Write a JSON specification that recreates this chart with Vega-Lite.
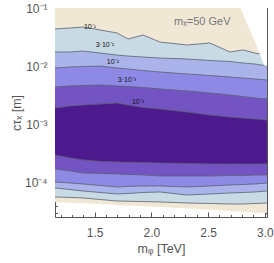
{
  "$schema": "https://vega.github.io/schema/vega-lite/v6.json",
  "width": 212,
  "height": 209,
  "autosize": "none",
  "padding": {"left": 55, "top": 8, "right": 7, "bottom": 46},
  "background": "white",
  "config": {
    "view": {"stroke": null},
    "font": "Liberation Sans",
    "axis": {"grid": false, "domainColor": "#555", "tickColor": "#555", "labelColor": "#555", "titleColor": "#555", "labelFontSize": 12, "titleFontSize": 12.5, "titleFontWeight": "normal", "zindex": 1}
  },
  "datasets": {
    "bands": [
      {"x": 1.15, "b": "tan", "lo": 4.72e-5, "hi": 0.1},
      {"x": 1.282, "b": "tan", "lo": 4.59e-5, "hi": 0.1},
      {"x": 1.397, "b": "tan", "lo": 4.49e-5, "hi": 0.1},
      {"x": 1.547, "b": "tan", "lo": 4.35e-5, "hi": 0.1},
      {"x": 1.697, "b": "tan", "lo": 4.20e-5, "hi": 0.1},
      {"x": 1.794, "b": "tan", "lo": 4.11e-5, "hi": 0.1},
      {"x": 1.926, "b": "tan", "lo": 4.00e-5, "hi": 0.1},
      {"x": 2.076, "b": "tan", "lo": 3.88e-5, "hi": 0.1},
      {"x": 2.314, "b": "tan", "lo": 3.65e-5, "hi": 0.1},
      {"x": 2.517, "b": "tan", "lo": 3.46e-5, "hi": 0.1},
      {"x": 2.693, "b": "tan", "lo": 3.31e-5, "hi": 0.1},
      {"x": 2.808, "b": "tan", "lo": 3.21e-5, "hi": 0.1},
      {"x": 2.914, "b": "tan", "lo": 3.12e-5, "hi": 0.1},
      {"x": 3.02, "b": "tan", "lo": 3.06e-5, "hi": 0.1},

      {"x": 1.15, "b": "lb", "lo": 5.75e-5, "hi": 0.0437},
      {"x": 1.282, "b": "lb", "lo": 5.64e-5, "hi": 0.0454},
      {"x": 1.397, "b": "lb", "lo": 5.53e-5, "hi": 0.0472},
      {"x": 1.547, "b": "lb", "lo": 5.21e-5, "hi": 0.0420},
      {"x": 1.697, "b": "lb", "lo": 4.91e-5, "hi": 0.0373},
      {"x": 1.794, "b": "lb", "lo": 4.86e-5, "hi": 0.0294},
      {"x": 1.926, "b": "lb", "lo": 4.80e-5, "hi": 0.0344},
      {"x": 2.076, "b": "lb", "lo": 4.72e-5, "hi": 0.0261},
      {"x": 2.314, "b": "lb", "lo": 4.54e-5, "hi": 0.0232},
      {"x": 2.517, "b": "lb", "lo": 4.45e-5, "hi": 0.0251},
      {"x": 2.693, "b": "lb", "lo": 4.36e-5, "hi": 0.0176},
      {"x": 2.808, "b": "lb", "lo": 4.36e-5, "hi": 0.0191},
      {"x": 2.914, "b": "lb", "lo": 4.45e-5, "hi": 0.0169},
      {"x": 3.02, "b": "lb", "lo": 4.54e-5, "hi": 0.0156},

      {"x": 1.15, "b": "lav", "lo": 8.21e-5, "hi": 0.0176},
      {"x": 1.282, "b": "lav", "lo": 7.73e-5, "hi": 0.0176},
      {"x": 1.397, "b": "lav", "lo": 7.29e-5, "hi": 0.0183},
      {"x": 1.547, "b": "lav", "lo": 6.87e-5, "hi": 0.0169},
      {"x": 1.697, "b": "lav", "lo": 6.47e-5, "hi": 0.0156},
      {"x": 1.794, "b": "lav", "lo": 6.60e-5, "hi": 0.0150},
      {"x": 1.926, "b": "lav", "lo": 6.87e-5, "hi": 0.01445},
      {"x": 2.076, "b": "lav", "lo": 7.01e-5, "hi": 0.01389},
      {"x": 2.314, "b": "lav", "lo": 6.22e-5, "hi": 0.01336},
      {"x": 2.517, "b": "lav", "lo": 6.47e-5, "hi": 0.01259},
      {"x": 2.693, "b": "lav", "lo": 6.74e-5, "hi": 0.01210},
      {"x": 2.808, "b": "lav", "lo": 6.87e-5, "hi": 0.01141},
      {"x": 2.914, "b": "lav", "lo": 7.01e-5, "hi": 0.01096},
      {"x": 3.02, "b": "lav", "lo": 7.29e-5, "hi": 0.01013},

      {"x": 1.15, "b": "med", "lo": 1.04e-4, "hi": 0.00936},
      {"x": 1.282, "b": "med", "lo": 1.00e-4, "hi": 0.00974},
      {"x": 1.397, "b": "med", "lo": 9.61e-5, "hi": 0.00993},
      {"x": 1.547, "b": "med", "lo": 9.06e-5, "hi": 0.01013},
      {"x": 1.697, "b": "med", "lo": 8.54e-5, "hi": 0.00936},
      {"x": 1.794, "b": "med", "lo": 8.71e-5, "hi": 0.00900},
      {"x": 1.926, "b": "med", "lo": 8.88e-5, "hi": 0.00848},
      {"x": 2.076, "b": "med", "lo": 8.88e-5, "hi": 0.00800},
      {"x": 2.314, "b": "med", "lo": 8.54e-5, "hi": 0.00739},
      {"x": 2.517, "b": "med", "lo": 8.88e-5, "hi": 0.00696},
      {"x": 2.693, "b": "med", "lo": 9.24e-5, "hi": 0.00656},
      {"x": 2.808, "b": "med", "lo": 9.42e-5, "hi": 0.00631},
      {"x": 2.914, "b": "med", "lo": 9.61e-5, "hi": 0.00607},
      {"x": 3.02, "b": "med", "lo": 1.00e-4, "hi": 0.00583},

      {"x": 1.15, "b": "pur", "lo": 1.74e-4, "hi": 0.00442},
      {"x": 1.282, "b": "pur", "lo": 1.61e-4, "hi": 0.00460},
      {"x": 1.397, "b": "pur", "lo": 1.48e-4, "hi": 0.00469},
      {"x": 1.547, "b": "pur", "lo": 1.46e-4, "hi": 0.00479},
      {"x": 1.697, "b": "pur", "lo": 1.43e-4, "hi": 0.00460},
      {"x": 1.794, "b": "pur", "lo": 1.40e-4, "hi": 0.00451},
      {"x": 1.926, "b": "pur", "lo": 1.37e-4, "hi": 0.00434},
      {"x": 2.076, "b": "pur", "lo": 1.32e-4, "hi": 0.00409},
      {"x": 2.314, "b": "pur", "lo": 1.32e-4, "hi": 0.00378},
      {"x": 2.517, "b": "pur", "lo": 1.32e-4, "hi": 0.00349},
      {"x": 2.693, "b": "pur", "lo": 1.34e-4, "hi": 0.00323},
      {"x": 2.808, "b": "pur", "lo": 1.34e-4, "hi": 0.00304},
      {"x": 2.914, "b": "pur", "lo": 1.37e-4, "hi": 0.00286},
      {"x": 3.02, "b": "pur", "lo": 1.37e-4, "hi": 0.00275},

      {"x": 1.15, "b": "dark", "lo": 3.02e-4, "hi": 0.00193},
      {"x": 1.282, "b": "dark", "lo": 2.68e-4, "hi": 0.00209},
      {"x": 1.397, "b": "dark", "lo": 2.48e-4, "hi": 0.00217},
      {"x": 1.547, "b": "dark", "lo": 2.34e-4, "hi": 0.00226},
      {"x": 1.697, "b": "dark", "lo": 2.29e-4, "hi": 0.00235},
      {"x": 1.794, "b": "dark", "lo": 2.26e-4, "hi": 0.00217},
      {"x": 1.926, "b": "dark", "lo": 2.24e-4, "hi": 0.00197},
      {"x": 2.076, "b": "dark", "lo": 2.20e-4, "hi": 0.00186},
      {"x": 2.314, "b": "dark", "lo": 2.16e-4, "hi": 0.00165},
      {"x": 2.517, "b": "dark", "lo": 2.12e-4, "hi": 0.00146},
      {"x": 2.693, "b": "dark", "lo": 2.12e-4, "hi": 0.00135},
      {"x": 2.808, "b": "dark", "lo": 2.12e-4, "hi": 0.00130},
      {"x": 2.914, "b": "dark", "lo": 2.12e-4, "hi": 0.00125},
      {"x": 3.02, "b": "dark", "lo": 2.12e-4, "hi": 0.00120}
    ],
    "wedge": [
      {"x": 2.786, "lo": 0.1, "hi": 0.1},
      {"x": 2.918, "lo": 0.0251, "hi": 0.1},
      {"x": 2.997, "lo": 0.0102, "hi": 0.1},
      {"x": 3.02, "lo": 0.0102, "hi": 0.1}
    ],
    "labels": [
      {"x": 1.459, "y": 0.0472, "t": "10⁻¹"},
      {"x": 1.59, "y": 0.0232, "t": "3·10⁻²"},
      {"x": 1.661, "y": 0.0119, "t": "10⁻²"},
      {"x": 1.785, "y": 0.00583, "t": "3·10⁻³"},
      {"x": 1.882, "y": 0.00245, "t": "10⁻³"}
    ],
    "note": [
      {"x": 2.2, "y": 0.0575, "t": "mₓ=50 GeV"}
    ]
  },
  "layer": [
    {
      "data": {"name": "bands"},
      "transform": [{"filter": "datum.b == 'tan'"}],
      "mark": {"type": "area", "color": "#f0e7d5", "clip": true},
      "encoding": {
        "x": {"field": "x", "type": "quantitative", "scale": {"domain": [1.15, 3.02], "nice": false, "zero": false},
          "axis": {"orient": "bottom", "values": [1.5, 2.0, 2.5, 3.0], "format": ".1f", "tickSize": -5, "labelPadding": 15, "domain": true, "title": "mᵩ [TeV]", "titlePadding": 4}},
        "y": {"field": "lo", "type": "quantitative", "scale": {"type": "log", "domain": [2.61e-5, 0.1], "nice": false},
          "axis": {"orient": "left", "values": [0.0001, 0.001, 0.01, 0.1], "labelExpr": "'10⁻' + ['','¹','²','³','⁴','⁵'][round(-log(datum.value)/LN10)]", "tickSize": -5, "labelPadding": 13, "domain": true, "title": "cτₓ [m]", "titlePadding": 1}},
        "y2": {"field": "hi"}
      }
    },
    {
      "data": {"name": "bands"},
      "transform": [{"filter": "datum.b == 'lb'"}],
      "mark": {"type": "area", "color": "#c8dbe5", "clip": true},
      "encoding": {
        "x": {"field": "x", "type": "quantitative", "scale": {"domain": [1.15, 3.02], "nice": false, "zero": false},
          "axis": {"orient": "bottom", "values": [1.2, 1.3, 1.4, 1.6, 1.7, 1.8, 1.9, 2.1, 2.2, 2.3, 2.4, 2.6, 2.7, 2.8, 2.9], "labels": false, "tickSize": -2.5, "domain": false, "title": null}},
        "y": {"field": "lo", "type": "quantitative", "scale": {"type": "log", "domain": [2.61e-5, 0.1], "nice": false},
          "axis": {"orient": "left", "values": [3e-5, 4e-5, 5e-5, 6e-5, 7e-5, 8e-5, 9e-5, 2e-4, 3e-4, 4e-4, 5e-4, 6e-4, 7e-4, 8e-4, 9e-4, 2e-3, 3e-3, 4e-3, 5e-3, 6e-3, 7e-3, 8e-3, 9e-3, 2e-2, 3e-2, 4e-2, 5e-2, 6e-2, 7e-2, 8e-2, 9e-2], "labels": false, "tickSize": -2.5, "domain": false, "title": null}},
        "y2": {"field": "hi"}
      }
    },
    {
      "data": {"name": "bands"},
      "transform": [{"filter": "datum.b == 'lav'"}],
      "mark": {"type": "area", "color": "#aab4ea", "clip": true},
      "encoding": {
        "x": {"field": "x", "type": "quantitative", "scale": {"domain": [1.15, 3.02], "nice": false, "zero": false},
          "axis": {"orient": "top", "values": [1.5, 2.0, 2.5, 3.0], "labels": false, "tickSize": -5, "domain": true, "title": null}},
        "y": {"field": "lo", "type": "quantitative", "scale": {"type": "log", "domain": [2.61e-5, 0.1], "nice": false},
          "axis": {"orient": "right", "values": [0.0001, 0.001, 0.01, 0.1], "labels": false, "tickSize": -5, "domain": true, "title": null}},
        "y2": {"field": "hi"}
      }
    },
    {
      "data": {"name": "bands"},
      "transform": [{"filter": "datum.b == 'med'"}],
      "mark": {"type": "area", "color": "#8e89e4", "clip": true},
      "encoding": {
        "x": {"field": "x", "type": "quantitative", "scale": {"domain": [1.15, 3.02], "nice": false, "zero": false},
          "axis": {"orient": "top", "values": [1.2, 1.3, 1.4, 1.6, 1.7, 1.8, 1.9, 2.1, 2.2, 2.3, 2.4, 2.6, 2.7, 2.8, 2.9], "labels": false, "tickSize": -2.5, "domain": false, "title": null}},
        "y": {"field": "lo", "type": "quantitative", "scale": {"type": "log", "domain": [2.61e-5, 0.1], "nice": false},
          "axis": {"orient": "right", "values": [3e-5, 4e-5, 5e-5, 6e-5, 7e-5, 8e-5, 9e-5, 2e-4, 3e-4, 4e-4, 5e-4, 6e-4, 7e-4, 8e-4, 9e-4, 2e-3, 3e-3, 4e-3, 5e-3, 6e-3, 7e-3, 8e-3, 9e-3, 2e-2, 3e-2, 4e-2, 5e-2, 6e-2, 7e-2, 8e-2, 9e-2], "labels": false, "tickSize": -2.5, "domain": false, "title": null}},
        "y2": {"field": "hi"}
      }
    },
    {
      "data": {"name": "bands"},
      "transform": [{"filter": "datum.b == 'pur'"}],
      "mark": {"type": "area", "color": "#7454c2", "clip": true},
      "encoding": {
        "x": {"field": "x", "type": "quantitative", "scale": {"domain": [1.15, 3.02], "nice": false, "zero": false}, "axis": null},
        "y": {"field": "lo", "type": "quantitative", "scale": {"type": "log", "domain": [2.61e-5, 0.1], "nice": false}, "axis": null},
        "y2": {"field": "hi"}
      }
    },
    {
      "data": {"name": "bands"},
      "transform": [{"filter": "datum.b == 'dark'"}],
      "mark": {"type": "area", "color": "#4d1a8d", "clip": true},
      "encoding": {
        "x": {"field": "x", "type": "quantitative", "scale": {"domain": [1.15, 3.02], "nice": false, "zero": false}, "axis": null},
        "y": {"field": "lo", "type": "quantitative", "scale": {"type": "log", "domain": [2.61e-5, 0.1], "nice": false}, "axis": null},
        "y2": {"field": "hi"}
      }
    },
    {
      "data": {"name": "bands"},
      "transform": [{"filter": "datum.b != 'tan'"}],
      "mark": {"type": "line", "color": "#5a6172", "strokeWidth": 0.8, "clip": true},
      "encoding": {
        "x": {"field": "x", "type": "quantitative", "scale": {"domain": [1.15, 3.02], "nice": false, "zero": false}, "axis": null},
        "y": {"field": "lo", "type": "quantitative", "scale": {"type": "log", "domain": [2.61e-5, 0.1], "nice": false}, "axis": null},
        "detail": {"field": "b"}
      }
    },
    {
      "data": {"name": "bands"},
      "transform": [{"filter": "datum.b != 'tan'"}],
      "mark": {"type": "line", "color": "#5a6172", "strokeWidth": 0.8, "clip": true},
      "encoding": {
        "x": {"field": "x", "type": "quantitative", "scale": {"domain": [1.15, 3.02], "nice": false, "zero": false}, "axis": null},
        "y": {"field": "hi", "type": "quantitative", "scale": {"type": "log", "domain": [2.61e-5, 0.1], "nice": false}, "axis": null},
        "detail": {"field": "b"}
      }
    },
    {
      "data": {"name": "wedge"},
      "mark": {"type": "area", "color": "white", "clip": true},
      "encoding": {
        "x": {"field": "x", "type": "quantitative", "scale": {"domain": [1.15, 3.02], "nice": false, "zero": false}, "axis": null},
        "y": {"field": "lo", "type": "quantitative", "scale": {"type": "log", "domain": [2.61e-5, 0.1], "nice": false}, "axis": null},
        "y2": {"field": "hi"}
      }
    },
    {
      "data": {"name": "labels"},
      "mark": {"type": "text", "fontSize": 7, "color": "#111"},
      "encoding": {
        "x": {"field": "x", "type": "quantitative", "scale": {"domain": [1.15, 3.02], "nice": false, "zero": false}, "axis": null},
        "y": {"field": "y", "type": "quantitative", "scale": {"type": "log", "domain": [2.61e-5, 0.1], "nice": false}, "axis": null},
        "text": {"field": "t"}
      }
    },
    {
      "data": {"name": "note"},
      "mark": {"type": "text", "fontSize": 11, "color": "#777", "align": "left"},
      "encoding": {
        "x": {"field": "x", "type": "quantitative", "scale": {"domain": [1.15, 3.02], "nice": false, "zero": false}, "axis": null},
        "y": {"field": "y", "type": "quantitative", "scale": {"type": "log", "domain": [2.61e-5, 0.1], "nice": false}, "axis": null},
        "text": {"field": "t"}
      }
    }
  ],
  "resolve": {"axis": {"x": "independent", "y": "independent"}}
}
